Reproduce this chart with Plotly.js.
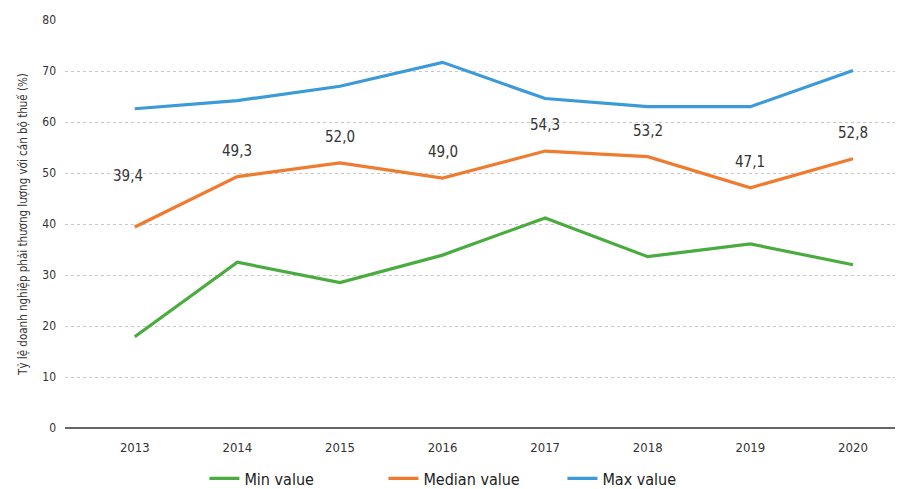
<!DOCTYPE html>
<html><head><meta charset="utf-8">
<script src="https://cdn.plot.ly/plotly-3.0.1.min.js"></script>
<style>html,body{margin:0;padding:0;background:#fff}#chart{width:898px;height:489px}</style>
</head><body><div id="chart"></div>
<script>
const years = [2013, 2014, 2015, 2016, 2017, 2018, 2019, 2020];
const minValues = [17.9, 32.5, 28.5, 33.9, 41.2, 33.6, 36.1, 32.0];
const medianValues = [39.4, 49.3, 52.0, 49.0, 54.3, 53.2, 47.1, 52.8];
const maxValues = [62.6, 64.2, 67.0, 71.7, 64.6, 63.0, 63.0, 70.1];
const yTicks = [0, 10, 20, 30, 40, 50, 60, 70, 80];
const seriesNames = ['Min value', 'Median value', 'Max value'];
const yTitle = 'Tỷ lệ doanh nghiệp phải thương lượng với cán bộ thuế (%)';

const FONT = '"Liberation Sans Narrow", "DejaVu Sans Condensed", "Open Sans", sans-serif';
const colors = ['#4aac3f', '#ef7b30', '#3b9ad8'];
const series = [minValues, medianValues, maxValues];

const traces = series.map((vals, i) => ({
  x: years, y: vals, type: 'scatter', mode: 'lines', name: seriesNames[i],
  line: {color: colors[i], width: 3.2}, hoverinfo: 'skip'
}));

const annotations = years.map((yr, i) => ({
  x: yr, y: medianValues[i], xref: 'x', yref: 'y',
  text: medianValues[i].toFixed(1).replace('.', ','),
  showarrow: false, yanchor: 'bottom',
  yshift: i === 0 ? 40 : 15, xshift: i === 0 ? -7 : 0,
  font: {family: FONT, size: 15, color: '#333'}
}));

const layout = {
  width: 898, height: 489,
  margin: {l: 65, r: 3, t: 20, b: 61, autoexpand: false},
  paper_bgcolor: '#fff', plot_bgcolor: '#fff',
  showlegend: true,
  legend: {
    orientation: 'h', x: 0.168, xanchor: 'left', y: -0.082, yanchor: 'top',
    font: {family: FONT, size: 16, color: '#222'},
    entrywidth: 134, entrywidthmode: 'pixels', itemwidth: 30, traceorder: 'normal'
  },
  xaxis: {
    range: [2012.32, 2020.41], tickvals: years, ticktext: years.map(String),
    showgrid: false, zeroline: false, showline: false, ticks: '',
    tickfont: {family: FONT, size: 13, color: '#333'}, ticklabelstandoff: 10
  },
  yaxis: {
    range: [0, 80], tickvals: yTicks, showgrid: true, gridcolor: '#c8c8c8', griddash: 'dot',
    gridwidth: 1, zeroline: true, zerolinecolor: '#666', zerolinewidth: 2,
    ticks: '', tickfont: {family: FONT, size: 12, color: '#333'}, ticklabelstandoff: 8,
    title: {text: yTitle, font: {family: FONT, size: 11.5, color: '#333'}, standoff: 12}
  },
  annotations: annotations
};

Plotly.newPlot('chart', traces, layout, {displayModeBar: false, staticPlot: true});
</script></body></html>
